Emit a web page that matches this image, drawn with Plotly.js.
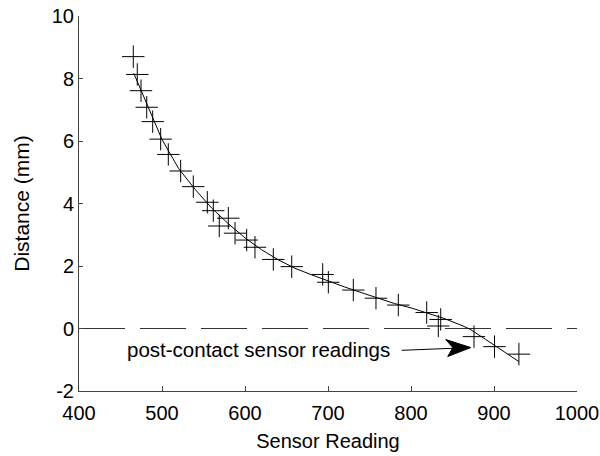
<!DOCTYPE html>
<html>
<head>
<meta charset="utf-8">
<script src="https://cdn.plot.ly/plotly-3.0.1.min.js"></script>
<style>html,body{margin:0;padding:0;background:#fff;}#chart{width:600px;height:456px;}</style>
</head>
<body>
<div id="chart"></div>
<script>
// Measured sensor readings and distances
const sensorReading = [465.4, 470.2, 474.7, 481.6, 488.8, 498.4, 507.6, 522.5, 537.7, 554.6,
  561.8, 579.9, 569.0, 588.0, 602.0, 612.0, 634.1, 656.3, 693.6, 700.4,
  730.5, 757.8, 784.7, 818.9, 835.8, 832.9, 875.9, 900.6, 930.0];
const distanceMm = [8.70, 8.13, 7.61, 7.08, 6.62, 6.06, 5.57, 5.04, 4.54, 4.04,
  3.77, 3.53, 3.28, 3.05, 2.83, 2.60, 2.21, 1.98, 1.73, 1.48,
  1.23, 0.97, 0.75, 0.51, 0.29, 0.08, -0.26, -0.58, -0.82];
// Fitted calibration curve
const fitX = [466, 475, 485, 500, 520, 540, 560, 580, 600, 620, 640, 660, 680, 700, 720,
  740, 760, 780, 800, 820, 840, 860, 871, 890, 910, 930];
const fitY = [8.17, 7.62, 6.95, 6.05, 5.12, 4.45, 3.85, 3.35, 2.90, 2.52, 2.20, 1.93, 1.72, 1.52, 1.33,
  1.15, 0.97, 0.80, 0.66, 0.50, 0.32, 0.11, -0.02, -0.35, -0.70, -1.06];
// Contact threshold line
const zeroX = [400, 1000];
const zeroY = [0, 0];
const xTicks = [400, 500, 600, 700, 800, 900, 1000];
const yTicks = [-2, 0, 2, 4, 6, 8, 10];
const annText = 'post-contact sensor readings';
const annTextPos = [616, -0.66];
const arrowTail = [787, -0.70];
const arrowTip = [872, -0.61];

const font = {family: 'Liberation Sans, Arial, sans-serif', size: 20, color: '#000'};

const traces = [
  {x: zeroX, y: zeroY, mode: 'lines', line: {color: '#333', width: 1, dash: '46px,15px'}, hoverinfo: 'skip'},
  {x: fitX, y: fitY, mode: 'lines', line: {color: '#000', width: 1}, hoverinfo: 'skip'},
  {x: sensorReading, y: distanceMm, mode: 'markers',
   marker: {symbol: 'cross-thin', size: 16, color: '#000', line: {color: '#000', width: 1}}}
];

const layout = {
  width: 600, height: 456,
  margin: {l: 79, r: 23, t: 16, b: 65},
  paper_bgcolor: '#fff', plot_bgcolor: '#fff',
  showlegend: false,
  font: font,
  xaxis: {
    range: [400, 1000], tickvals: xTicks, ticktext: xTicks.map(String),
    showgrid: false, zeroline: false, showline: true, linecolor: '#444', linewidth: 1,
    ticks: 'inside', ticklen: 5, tickcolor: '#444', tickfont: font, ticklabelstandoff: 4,
    title: {text: 'Sensor Reading', font: font, standoff: 10}
  },
  yaxis: {
    range: [-2, 10], tickvals: yTicks, ticktext: yTicks.map(String),
    showgrid: false, zeroline: false, showline: true, linecolor: '#444', linewidth: 1,
    ticks: 'inside', ticklen: 4, tickcolor: '#444', tickfont: font,
    title: {text: 'Distance (mm)', font: {family: font.family, size: 21, color: '#000'}, standoff: 16}
  },
  annotations: [
    {x: annTextPos[0], y: annTextPos[1], xref: 'x', yref: 'y', text: annText, showarrow: false,
     font: {family: font.family, size: 20.5, color: '#000'}},
    {x: arrowTip[0], y: arrowTip[1], ax: arrowTail[0], ay: arrowTail[1], axref: 'x', ayref: 'y',
     xref: 'x', yref: 'y', text: '', showarrow: true, arrowhead: 0, arrowwidth: 1, arrowcolor: '#000', standoff: 18}
  ],
  shapes: [
    {type: 'path', xref: 'x', yref: 'y', xsizemode: 'pixel', ysizemode: 'pixel',
     xanchor: arrowTip[0], yanchor: arrowTip[1],
     path: 'M0,0 L-25,8 L-18,0 L-23,-9 Z', fillcolor: '#000', line: {color: '#000', width: 1}}
  ]
};

Plotly.newPlot('chart', traces, layout, {displayModeBar: false, staticPlot: true});
</script>
</body>
</html>
